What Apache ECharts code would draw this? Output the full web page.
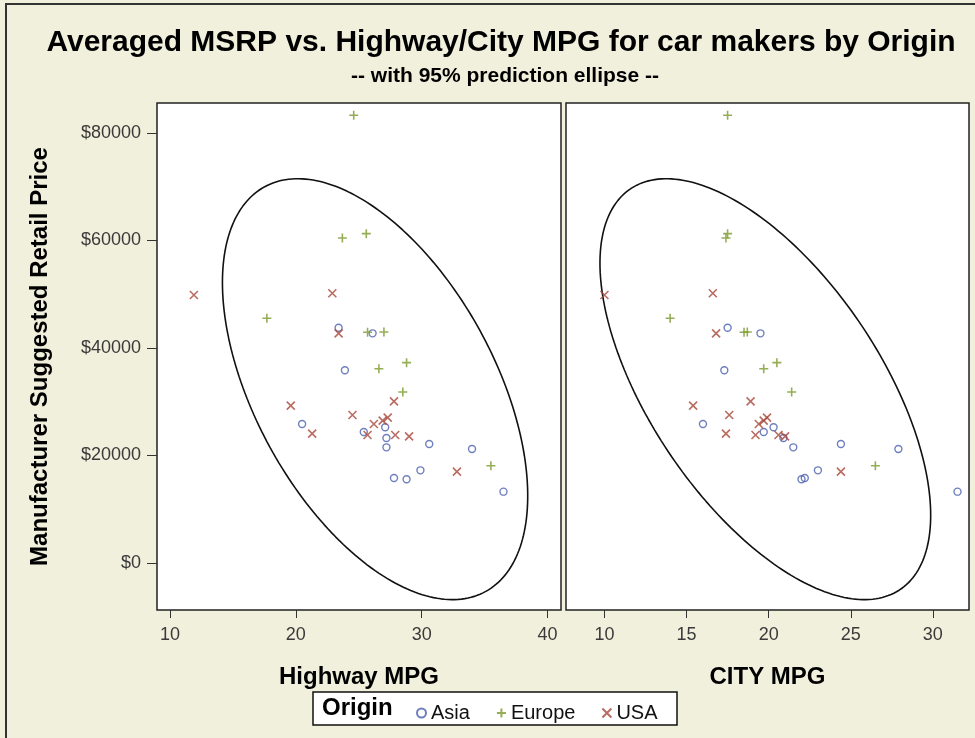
<!DOCTYPE html>
<html>
<head>
<meta charset="utf-8">
<script src="https://cdn.jsdelivr.net/npm/echarts@6/dist/echarts.min.js"></script>
<style>
html,body{margin:0;padding:0;background:#F1F0DD;}
#main{width:975px;height:738px;}
</style>
</head>
<body>
<div id="main"></div>
<script>
// ---- data ----
const origins = ['Asia', 'Europe', 'USA'];

const asiaHighway = [23.4, 26.1, 23.9, 20.5, 27.1, 25.4, 27.2, 30.6, 34.0, 27.2, 29.9, 27.8, 28.8, 36.5];
const asiaCity    = [17.5, 19.5, 17.3, 16.0, 20.3, 19.7, 20.9, 24.4, 27.9, 21.5, 23.0, 22.2, 22.0, 31.5];
const asiaMsrp    = [43780, 42730, 35850, 25860, 25250, 24370, 23260, 22140, 21210, 21520, 17240, 15810, 15570, 13270];

const europeHighway = [24.6, 25.6, 23.7, 17.7, 25.7, 27.0, 26.6, 28.8, 28.5, 35.5];
const europeCity    = [17.5, 17.5, 17.4, 14.0, 18.5, 18.7, 19.7, 20.5, 21.4, 26.5];
const europeMsrp    = [83300, 61270, 60470, 45530, 42920, 42980, 36150, 37270, 31810, 18100];

const usaHighway = [11.9, 22.9, 23.4, 27.8, 19.6, 24.5, 27.3, 26.9, 26.2, 21.3, 25.7, 27.9, 29.0, 32.8];
const usaCity    = [10.0, 16.6, 16.8, 18.9, 15.4, 17.6, 19.9, 19.7, 19.4, 17.4, 19.2, 20.6, 21.0, 24.4];
const usaMsrp    = [49860, 50180, 42730, 30080, 29270, 27540, 27040, 26480, 25860, 24060, 23810, 23810, 23570, 16990];

const highwayTicks = [10, 20, 30, 40];
const cityTicks = [10, 15, 20, 25, 30];
const msrpTicks = [0, 20000, 40000, 60000, 80000];

// ---- helpers ----
const zip = (xs, ys) => xs.map((x, i) => [x, ys[i]]);

// 95% prediction ellipse computed from all makers (as the original statistic does)
function predictionEllipse(xs, ys, alpha, steps) {
  const n = xs.length;
  const mx = xs.reduce((a, b) => a + b, 0) / n;
  const my = ys.reduce((a, b) => a + b, 0) / n;
  let sxx = 0, syy = 0, sxy = 0;
  for (let i = 0; i < n; i++) {
    const dx = xs[i] - mx, dy = ys[i] - my;
    sxx += dx * dx; syy += dy * dy; sxy += dx * dy;
  }
  sxx /= (n - 1); syy /= (n - 1); sxy /= (n - 1);
  const nu = n - 2;
  const f = nu / 2 * (Math.pow(alpha, -2 / nu) - 1); // F(2, n-2) quantile
  const k = Math.sqrt(2 * (n - 1) * (n + 1) / (n * (n - 2)) * f);
  const a = Math.sqrt(sxx), b = sxy / a, c = Math.sqrt(syy - b * b);
  const pts = [];
  for (let i = 0; i <= steps; i++) {
    const t = 2 * Math.PI * i / steps;
    pts.push([mx + k * a * Math.cos(t), my + k * (b * Math.cos(t) + c * Math.sin(t))]);
  }
  return pts;
}

const allHighway = asiaHighway.concat(europeHighway, usaHighway);
const allCity = asiaCity.concat(europeCity, usaCity);
const allMsrp = asiaMsrp.concat(europeMsrp, usaMsrp);

const colors = { Asia: '#4A5FAE', Europe: '#7A9A2C', USA: '#A8473A' };
const symbols = {
  Asia: 'circle',
  Europe: 'path://M0,5L10,5M5,0L5,10',
  USA: 'path://M0,0L10,10M10,0L0,10'
};
const sizes = { Asia: 7, Europe: 9, USA: 8 };

function scatter(name, data, idx) {
  return {
    type: 'scatter', name: name, data: data,
    xAxisIndex: idx, yAxisIndex: idx,
    symbol: symbols[name], symbolSize: sizes[name],
    itemStyle: { color: 'rgba(0,0,0,0)', borderColor: colors[name], borderWidth: name === 'Asia' ? 1.4 : 1.6 },
    emphasis: { disabled: true }, silent: true, z: 3
  };
}

const labelFont = { fontFamily: 'Liberation Sans', fontSize: 18, color: '#3a3a3a' };
const nameFont = { fontFamily: 'Liberation Sans', fontSize: 24, fontWeight: 'bold', color: '#000' };
const noLine = { show: false, onZero: false };

const chart = echarts.init(document.getElementById('main'), null, { renderer: 'canvas' });
chart.setOption({
  backgroundColor: '#F1F0DD',
  animation: false,
  title: [
    { text: 'Averaged MSRP vs. Highway/City MPG for car makers by Origin', left: 496, top: 23, textAlign: 'center',
      textStyle: { fontFamily: 'Liberation Sans', fontSize: 30, fontWeight: 'bold', color: '#000' } },
    { text: '-- with 95% prediction ellipse --', left: 500, top: 61, textAlign: 'center',
      textStyle: { fontFamily: 'Liberation Sans', fontSize: 21, fontWeight: 'bold', color: '#000' } }
  ],
  graphic: [
    { type: 'rect', shape: { x: 6, y: 4, width: 990, height: 760 }, style: { fill: 'none', stroke: '#333', lineWidth: 2 }, silent: true },
    { type: 'rect', shape: { x: 313, y: 692, width: 364, height: 33 }, style: { fill: '#fff', stroke: '#111', lineWidth: 1.5 }, silent: true, z: 0 },
    { type: 'text', x: 322, y: 696, style: { text: 'Origin', fontFamily: 'Liberation Sans', fontSize: 24, fontWeight: 'bold', fill: '#000' }, silent: true, z: 1 }
  ],
  legend: {
    data: origins, left: 411, top: 698, itemWidth: 9, itemHeight: 9, itemGap: 26,
    textStyle: { fontFamily: 'Liberation Sans', fontSize: 20, color: '#111' },
    selectedMode: false, z: 5
  },
  grid: [
    { left: 157, top: 103, width: 404, height: 507, show: true, backgroundColor: '#fff', borderColor: '#222', borderWidth: 1.5 },
    { left: 566, top: 103, width: 403, height: 507, show: true, backgroundColor: '#fff', borderColor: '#222', borderWidth: 1.5 }
  ],
  xAxis: [
    { type: 'value', gridIndex: 0, min: 8.97, max: 41.07,
      name: 'Highway MPG', nameLocation: 'middle', nameGap: 55, nameTextStyle: nameFont,
      axisLine: noLine, splitLine: { show: false },
      axisTick: { show: true, length: 8, lineStyle: { color: '#333' }, customValues: highwayTicks },
      axisLabel: Object.assign({ margin: 16, customValues: highwayTicks }, labelFont) },
    { type: 'value', gridIndex: 1, min: 7.66, max: 32.2,
      name: 'CITY MPG', nameLocation: 'middle', nameGap: 55, nameTextStyle: nameFont,
      axisLine: noLine, splitLine: { show: false },
      axisTick: { show: true, length: 8, lineStyle: { color: '#333' }, customValues: cityTicks },
      axisLabel: Object.assign({ margin: 16, customValues: cityTicks }, labelFont) }
  ],
  yAxis: [
    { type: 'value', gridIndex: 0, min: -8744, max: 85581,
      name: 'Manufacturer Suggested Retail Price', nameLocation: 'middle', nameGap: 105, nameTextStyle: nameFont,
      axisLine: noLine, splitLine: { show: false },
      axisTick: { show: true, length: 10, lineStyle: { color: '#333' }, customValues: msrpTicks },
      axisLabel: Object.assign({ margin: 16, customValues: msrpTicks, formatter: v => '$' + v }, labelFont) },
    { type: 'value', gridIndex: 1, min: -8744, max: 85581,
      axisLine: noLine, splitLine: { show: false }, axisTick: { show: false }, axisLabel: { show: false } }
  ],
  series: [
    { type: 'line', name: 'ellipse-hwy', data: predictionEllipse(allHighway, allMsrp, 0.05, 240),
      xAxisIndex: 0, yAxisIndex: 0, showSymbol: false, symbol: 'none', silent: true,
      lineStyle: { color: '#111', width: 1.6 }, z: 2 },
    { type: 'line', name: 'ellipse-city', data: predictionEllipse(allCity, allMsrp, 0.05, 240),
      xAxisIndex: 1, yAxisIndex: 1, showSymbol: false, symbol: 'none', silent: true,
      lineStyle: { color: '#111', width: 1.6 }, z: 2 },
    scatter('Asia', zip(asiaHighway, asiaMsrp), 0),
    scatter('Europe', zip(europeHighway, europeMsrp), 0),
    scatter('USA', zip(usaHighway, usaMsrp), 0),
    scatter('Asia', zip(asiaCity, asiaMsrp), 1),
    scatter('Europe', zip(europeCity, europeMsrp), 1),
    scatter('USA', zip(usaCity, usaMsrp), 1)
  ]
});
</script>
</body>
</html>
